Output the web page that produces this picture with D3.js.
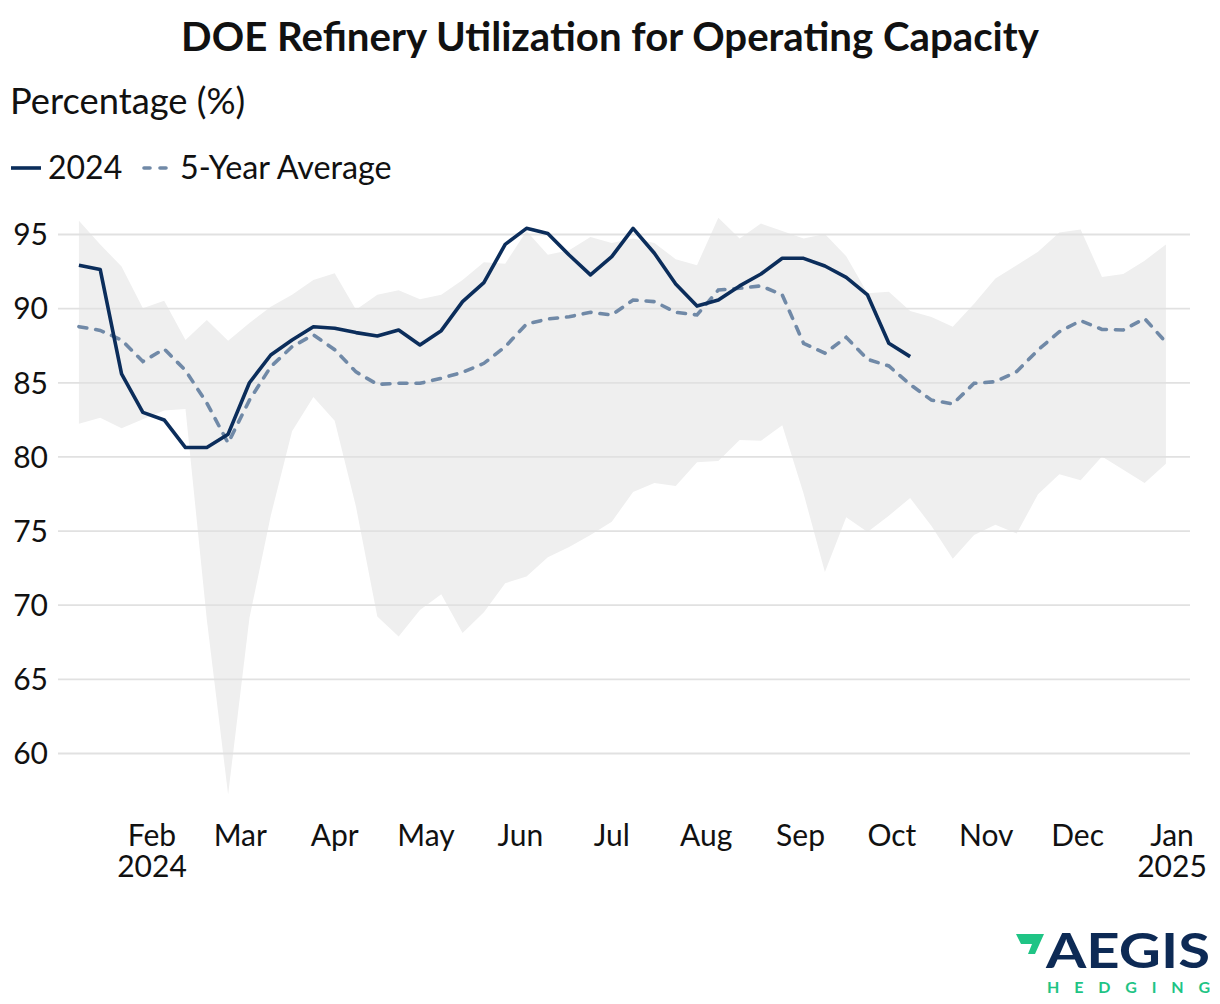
<!DOCTYPE html>
<html>
<head>
<meta charset="utf-8">
<script src="https://cdn.jsdelivr.net/npm/d3@7"></script>
<style>
  html, body { margin: 0; padding: 0; background: #fff; }
  svg { display: block; font-family: Lato, "Noto Sans", sans-serif; }
</style>
</head>
<body>
<svg id="chart" width="1220" height="1004"></svg>
<script>
// ---------- DATA ----------
const weekDates = [
  "2024-01-08","2024-01-15","2024-01-22","2024-01-29","2024-02-05","2024-02-12","2024-02-19","2024-02-26",
  "2024-03-04","2024-03-11","2024-03-18","2024-03-25","2024-04-01","2024-04-08","2024-04-15","2024-04-22",
  "2024-04-29","2024-05-06","2024-05-13","2024-05-20","2024-05-27","2024-06-03","2024-06-10","2024-06-17",
  "2024-06-24","2024-07-01","2024-07-08","2024-07-15","2024-07-22","2024-07-29","2024-08-05","2024-08-12",
  "2024-08-19","2024-08-26","2024-09-02","2024-09-09","2024-09-16","2024-09-23","2024-09-30","2024-10-07",
  "2024-10-14","2024-10-21","2024-10-28","2024-11-04","2024-11-11","2024-11-18","2024-11-25","2024-12-02",
  "2024-12-09","2024-12-16","2024-12-23","2024-12-30"
];
const rangeHigh = [
  95.9, 94.3, 92.8, 90.0, 90.5, 87.85, 89.2, 87.8, 89.0, 90.1, 90.9, 91.9, 92.35, 89.9, 90.9, 91.2,
  90.6, 90.9, 91.9, 93.1, 93.0, 95.2, 93.6, 93.9, 94.8, 94.4, 94.7, 94.4, 93.3, 92.9, 96.1, 94.7,
  95.7, 95.2, 94.7, 95.0, 93.5, 91.0, 91.1, 89.8, 89.4, 88.75, 90.3, 92.0, 92.9, 93.8, 95.1, 95.3,
  92.1, 92.3, 93.2, 94.3
];
const rangeLow = [
  82.2, 82.6, 81.9, 82.5, 83.1, 83.2, 69.0, 57.2, 69.1, 76.0, 81.7, 84.0, 82.4, 76.6, 69.2, 67.85,
  69.65, 70.7, 68.1, 69.5, 71.45, 71.9, 73.2, 73.9, 74.7, 75.6, 77.6, 78.2, 78.0, 79.6, 79.7, 81.1,
  81.05, 82.1, 77.5, 72.2, 75.9, 74.9, 76.0, 77.2, 75.3, 73.1, 74.7, 75.4, 74.8, 77.45, 78.8, 78.4,
  80.0, 79.1, 78.2, 79.5
];
const fiveYearAvg = [
  88.75, 88.5, 87.85, 86.4, 87.25, 85.8, 83.6, 80.9, 83.8, 86.05, 87.4, 88.2, 87.2, 85.7, 84.86, 84.93,
  84.93, 85.27, 85.67, 86.28, 87.4, 88.93, 89.27, 89.42, 89.72, 89.54, 90.55, 90.44, 89.72, 89.54, 91.22, 91.34,
  91.5, 90.89, 87.63, 86.96, 88.03, 86.55, 86.1, 84.85, 83.8, 83.54, 84.93, 85.04, 85.72, 87.18, 88.41, 89.15,
  88.57, 88.53, 89.3, 87.7
];
const util2024 = [
  92.9, 92.6, 85.56, 82.97, 82.46, 80.6, 80.6, 81.5, 84.97, 86.84, 87.85, 88.75, 88.64, 88.35, 88.12, 88.53,
  87.52, 88.48, 90.44, 91.72, 94.3, 95.38, 95.04, 93.58, 92.24, 93.47, 95.38, 93.7, 91.63, 90.14, 90.55, 91.5,
  92.3, 93.36, 93.36, 92.84, 92.08, 90.89, 87.63, 86.73
];
const yTicks = [60, 65, 70, 75, 80, 85, 90, 95];
const monthTicks = ["2024-02-01","2024-03-01","2024-04-01","2024-05-01","2024-06-01","2024-07-01",
  "2024-08-01","2024-09-01","2024-10-01","2024-11-01","2024-12-01","2025-01-01"];
const monthLabels = ["Feb","Mar","Apr","May","Jun","Jul","Aug","Sep","Oct","Nov","Dec","Jan"];
const yearLabels = {"2024-02-01": "2024", "2025-01-01": "2025"};

const titleText = "DOE Refinery Utilization for Operating Capacity";
const yAxisTitle = "Percentage (%)";
const seriesNames = ["2024", "5-Year Average"];

// ---------- SETUP ----------
const parse = d3.timeParse("%Y-%m-%d");
const dates = weekDates.map(parse);
const svg = d3.select("#chart");

const C = {
  line: "#0b2d5b",
  avg: "#7089a7",
  band: "#efefef",
  grid: "#e1e1e1",
  text: "#111111",
  green: "#1fc485"
};

const x = d3.scaleTime()
  .domain([parse("2024-02-01"), parse("2025-01-01")])
  .range([152, 1172]);
const y = d3.scaleLinear().domain([60, 95]).range([753, 234]);

const gridX0 = 58, gridX1 = 1190;

// band
const bandData = dates.map((d, i) => ({ d, hi: rangeHigh[i], lo: rangeLow[i] }));
svg.append("path")
  .datum(bandData)
  .attr("fill", C.band)
  .attr("d", d3.area().x(p => x(p.d)).y0(p => y(p.lo)).y1(p => y(p.hi)));

// gridlines + y tick labels
const yAxis = d3.axisLeft(y).tickValues(yTicks).tickSize(-(gridX1 - gridX0)).tickFormat(d3.format("d"));
const gy = svg.append("g").attr("transform", `translate(${gridX0},0)`).call(yAxis);
gy.select(".domain").remove();
gy.selectAll(".tick line").attr("stroke", C.grid).attr("stroke-width", 1.8);
gy.selectAll(".tick text")
  .attr("x", 48 - gridX0)
  .attr("dy", "0.36em")
  .attr("fill", C.text)
  .style("font-size", "30px")
  .style("font-family", "Lato");

// 5-year avg
svg.append("path")
  .datum(fiveYearAvg.map((v, i) => ({ d: dates[i], v })))
  .attr("fill", "none")
  .attr("stroke", C.avg)
  .attr("stroke-width", 3.6)
  .attr("stroke-dasharray", "8,9")
  .attr("stroke-linecap", "round")
  .attr("d", d3.line().x(p => x(p.d)).y(p => y(p.v)));

// 2024
svg.append("path")
  .datum(util2024.map((v, i) => ({ d: dates[i], v })))
  .attr("fill", "none")
  .attr("stroke", C.line)
  .attr("stroke-width", 3.6)
  .attr("stroke-linejoin", "round")
  .attr("d", d3.line().x(p => x(p.d)).y(p => y(p.v)));

// x axis labels (month + optional year on a second line, one text element)
const xg = svg.append("g").attr("class", "xlabels");
monthTicks.forEach((t, i) => {
  const dt = parse(t);
  const tx = xg.append("text")
    .attr("x", x(dt)).attr("y", 846)
    .attr("text-anchor", "middle")
    .attr("fill", C.text)
    .style("font-size", "30px");
  tx.append("tspan").attr("x", x(dt)).text(monthLabels[i]);
  if (yearLabels[t]) {
    tx.append("tspan").attr("x", x(dt)).attr("dy", 31).text(yearLabels[t]);
  }
});

// title
svg.append("text")
  .attr("x", 610).attr("y", 51)
  .attr("text-anchor", "middle")
  .attr("fill", C.text)
  .style("font-size", "40.2px")
  .style("font-weight", "bold")
  .text(titleText);

svg.append("text")
  .attr("x", 10).attr("y", 114)
  .attr("fill", C.text)
  .style("font-size", "36.3px")
  .text(yAxisTitle);

// legend
const lg = svg.append("g");
lg.append("line").attr("x1", 11).attr("x2", 41).attr("y1", 168).attr("y2", 168)
  .attr("stroke", C.line).attr("stroke-width", 3.6);
lg.append("text").attr("x", 48).attr("y", 179).attr("fill", C.text)
  .style("font-size", "32px").text(seriesNames[0]);
lg.append("line").attr("x1", 144).attr("x2", 168).attr("y1", 168).attr("y2", 168)
  .attr("stroke", C.avg).attr("stroke-width", 3.6)
  .attr("stroke-dasharray", "6,10").attr("stroke-linecap", "round");
lg.append("text").attr("x", 180).attr("y", 179).attr("fill", C.text)
  .style("font-size", "32.3px").text(seriesNames[1]);

// logo
const logo = svg.append("g");
logo.append("polygon")
  .attr("points", "1016,934 1044,934 1035,954 1028,954 1032,944 1021,944")
  .attr("fill", C.green);
logo.append("text")
  .attr("x", 1046).attr("y", 968)
  .attr("fill", "#0d2a55")
  .style("font-size", "47px").style("font-weight", "bold")
  .attr("textLength", 164).attr("lengthAdjust", "spacingAndGlyphs")
  .text("AEGIS");
logo.append("text")
  .attr("x", 1047).attr("y", 993)
  .attr("fill", C.green)
  .style("font-size", "16px").style("font-weight", "bold")
  .attr("textLength", 163).attr("lengthAdjust", "spacing")
  .text("HEDGING");
</script>
</body>
</html>
